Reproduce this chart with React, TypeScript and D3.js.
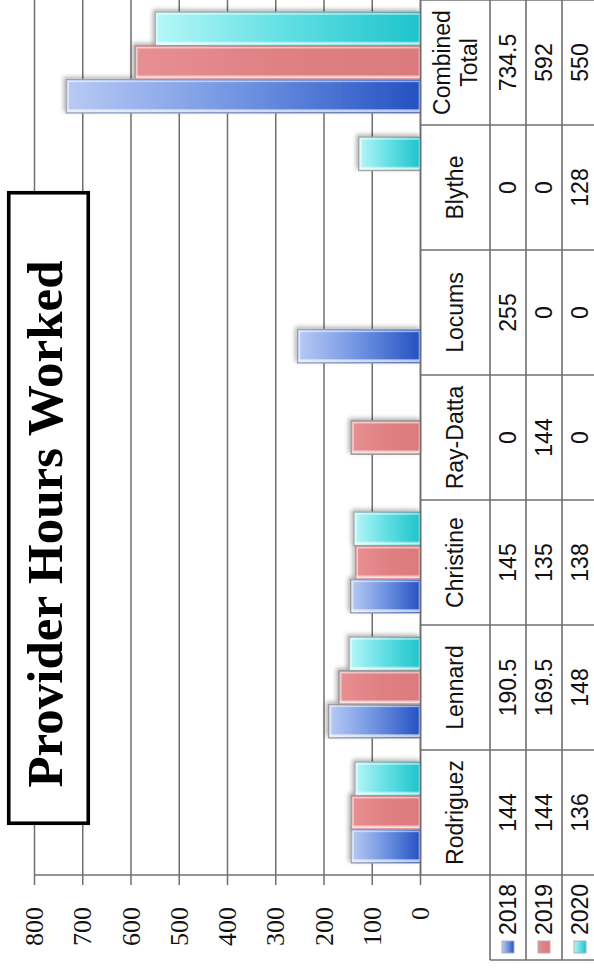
import React from 'react';
import * as d3 from 'd3';

// Provider hours by year, drawn as a landscape column chart with a data table,
// then turned a quarter turn so it reads bottom-to-top on a portrait page.
const categories = ['Rodriguez', 'Lennard', 'Christine', 'Ray-Datta', 'Locums', 'Blythe', 'Combined Total'];
const years = ['2018', '2019', '2020'];
const hours2018 = [144, 190.5, 145, 0, 255, 0, 734.5];
const hours2019 = [144, 169.5, 135, 144, 0, 0, 592];
const hours2020 = [136, 148, 138, 0, 0, 128, 550];
const valueTicks = [0, 100, 200, 300, 400, 500, 600, 700, 800];
const title = 'Provider Hours Worked';

const seriesByYear = [hours2018, hours2019, hours2020];

// Landscape frame size (before turning)
const W = 969;
const H = 594;

const palette = {
  '2018': { id: 'g2018', light: '#b9cbf5', mid: '#6f93e2', dark: '#2451c2' },
  '2019': { id: 'g2019', light: '#e88f92', mid: '#e08083', dark: '#dc7a7d' },
  '2020': { id: 'g2020', light: '#b6f7f8', mid: '#5fdfe3', dark: '#1ec3cb' },
};

export default function App() {
  const plotLeft = 94;
  const plotRight = W;

  const x0 = d3.scaleBand<string>().domain(categories).range([plotLeft, plotRight]).paddingInner(0).paddingOuter(0);
  const x1 = d3.scaleBand<string>().domain(years).range([0, x0.bandwidth()]).paddingInner(0).paddingOuter(0.355);
  const y = d3.scaleLinear().domain([0, 800]).range([420.5, 34.5]);

  const tableTop = y(0);
  const nameRowBottom = 490;
  const rowH = 36;
  const rowTops = years.map((_, i) => nameRowBottom + i * rowH);
  const tableBottom = nameRowBottom + years.length * rowH;
  const legendLeft = 9;

  const gridColor = '#6f6f6f';

  const bars = categories.flatMap((c, ci) =>
    years.map((yr, yi) => ({ c, yr, v: seriesByYear[yi][ci] }))
  ).filter((d) => d.v > 0);

  return (
    <svg
      width={H}
      height={W}
      viewBox={`0 0 ${H} ${W}`}
      style={{ position: 'absolute', left: 0, top: 0, display: 'block', background: '#ffffff' }}
    >
      <defs>
        {years.map((yr) => {
          const p = palette[yr as keyof typeof palette];
          return (
            <linearGradient key={yr} id={p.id} x1="0" y1="0" x2="0" y2="1">
              <stop offset="0%" stopColor={p.light} />
              <stop offset="50%" stopColor={p.mid} />
              <stop offset="100%" stopColor={p.dark} />
            </linearGradient>
          );
        })}
        <filter id="barShadow" x="-20%" y="-20%" width="140%" height="140%">
          <feDropShadow dx="2" dy="-2" stdDeviation="2.2" floodColor="#000" floodOpacity="0.3" />
        </filter>
      </defs>

      <rect x={0} y={0} width={H} height={W} fill="#ffffff" />

      <g transform={`translate(0,${W}) rotate(-90)`}>
        {/* value gridlines with their ticks */}
        {valueTicks.map((t) => (
          <line key={`g${t}`} x1={84} x2={plotRight} y1={y(t)} y2={y(t)} stroke={gridColor} strokeWidth={1.5} />
        ))}
        {/* category axis line, continuing as the table's left border */}
        <line x1={plotLeft} x2={plotLeft} y1={y(800)} y2={tableBottom} stroke={gridColor} strokeWidth={1.5} />

        {/* tick labels */}
        {valueTicks.map((t) => (
          <text
            key={`t${t}`}
            x={62}
            y={y(t)}
            textAnchor="end"
            dominantBaseline="central"
            fontFamily="'Liberation Serif', 'DejaVu Serif', serif"
            fontSize={26}
            fill="#111"
          >
            {t}
          </text>
        ))}

        {/* bars */}
        {bars.map((d) => {
          const bx = (x0(d.c) as number) + (x1(d.yr) as number);
          const bw = x1.bandwidth();
          const top = y(d.v);
          const bh = y(0) - top;
          const p = palette[d.yr as keyof typeof palette];
          return (
            <g key={`${d.c}-${d.yr}`}>
              <rect x={bx} y={top} width={bw} height={bh} fill={`url(#${p.id})`} stroke="#9a9a9a" strokeWidth={1} filter="url(#barShadow)" />
              <rect x={bx + 2} y={top + 2} width={bw - 4} height={Math.max(0, bh - 3)} fill="none" stroke="#ffffff" strokeOpacity={0.55} strokeWidth={1.6} />
              <rect x={bx + 1} y={top + 1} width={3} height={Math.max(0, bh - 1)} fill="#ffffff" fillOpacity={0.45} />
            </g>
          );
        })}

        {/* data table */}
        <g stroke={gridColor} strokeWidth={1.6} fill="none">
          <line x1={plotLeft} x2={plotRight} y1={tableTop} y2={tableTop} />
          {rowTops.map((ry) => (
            <line key={`r${ry}`} x1={legendLeft} x2={plotRight} y1={ry} y2={ry} />
          ))}
          <line x1={legendLeft} x2={legendLeft} y1={nameRowBottom} y2={tableBottom} />
          {categories.map((c) => (
            <line key={`v${c}`} x1={(x0(c) as number) + x0.bandwidth()} x2={(x0(c) as number) + x0.bandwidth()} y1={tableTop} y2={tableBottom} />
          ))}
        </g>

        {/* category names */}
        {categories.map((c) => {
          const cx = (x0(c) as number) + x0.bandwidth() / 2;
          const words = c === 'Combined Total' ? ['Combined', 'Total'] : [c];
          const cy = (tableTop + nameRowBottom) / 2;
          return (
            <text
              key={`n${c}`}
              x={cx}
              textAnchor="middle"
              dominantBaseline="central"
              fontFamily="'Liberation Sans', Arial, sans-serif"
              fontSize={23}
              fill="#111"
            >
              {words.map((w, i) => (
                <tspan key={w} x={cx} y={cy + (i - (words.length - 1) / 2) * 27}>
                  {w}
                </tspan>
              ))}
            </text>
          );
        })}

        {/* table values */}
        {years.map((yr, yi) =>
          categories.map((c, ci) => (
            <text
              key={`v${yr}${c}`}
              x={(x0(c) as number) + x0.bandwidth() / 2}
              y={rowTops[yi] + rowH / 2}
              textAnchor="middle"
              dominantBaseline="central"
              fontFamily="'Liberation Sans', Arial, sans-serif"
              fontSize={23}
              fill="#111"
            >
              {String(seriesByYear[yi][ci])}
            </text>
          ))
        )}

        {/* legend keys in the table's header column */}
        {years.map((yr, yi) => {
          const p = palette[yr as keyof typeof palette];
          const cy = rowTops[yi] + rowH / 2;
          return (
            <g key={`l${yr}`}>
              <rect x={16} y={cy - 6} width={12} height={12} fill={`url(#${p.id})`} stroke="#b0b0b0" strokeWidth={1} />
              <text
                x={34}
                y={cy}
                dominantBaseline="central"
                fontFamily="'Liberation Sans', Arial, sans-serif"
                fontSize={23}
                fill="#111"
              >
                {yr}
              </text>
            </g>
          );
        })}

        {/* title box */}
        <rect x={145.75} y={8.75} width={630.5} height={79.5} fill="#ffffff" stroke="#000" strokeWidth={3.6} />
        <text
          x={445}
          y={62}
          textAnchor="middle"
          fontFamily="'Liberation Serif', 'DejaVu Serif', serif"
          fontWeight="bold"
          fontSize={51}
          fill="#000"
        >
          {title}
        </text>
      </g>
    </svg>
  );
}
